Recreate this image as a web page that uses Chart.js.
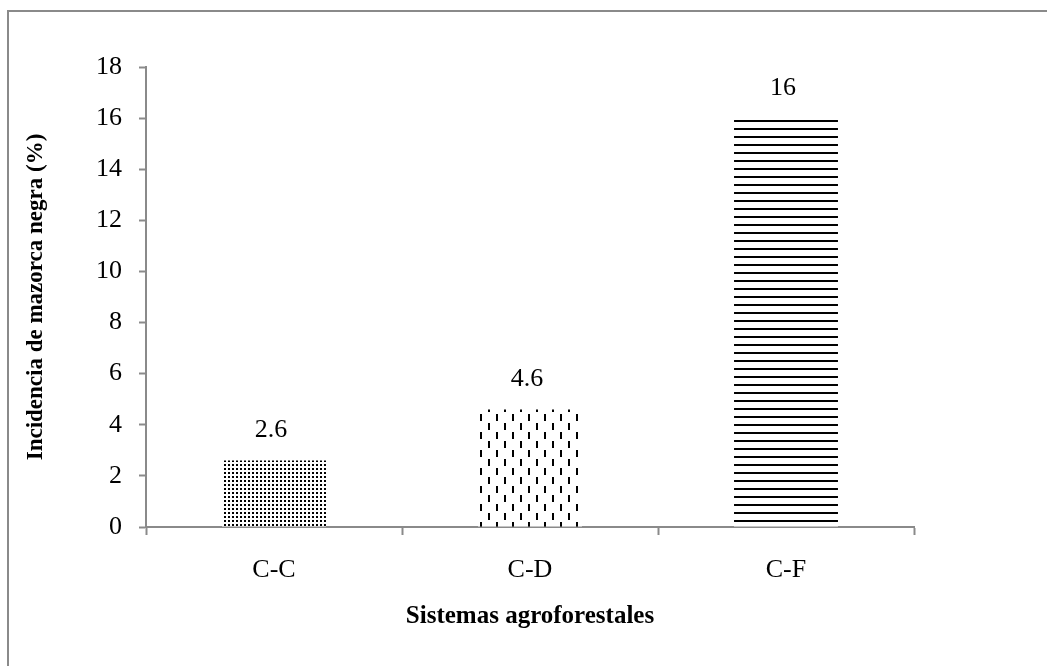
<!DOCTYPE html>
<html>
<head>
<meta charset="utf-8">
<script src="https://cdn.jsdelivr.net/npm/chart.js@4"></script>
<style>
  html, body { margin: 0; padding: 0; background: #fff; }
  canvas { display: block; }
</style>
</head>
<body>
<canvas id="incidenceChart" width="1047" height="666"></canvas>
<script>
    // Incidence of black pod per agroforestry system
    const categories = ['C-C', 'C-D', 'C-F'];
    const incidence = [2.6, 4.6, 16];
    const yTicks = [0, 2, 4, 6, 8, 10, 12, 14, 16, 18];

    const serif = "'Liberation Serif', 'Times New Roman', serif";
    const axisGrey = '#8a8a8a';
    const canvas = document.getElementById('incidenceChart');

    // Black-and-white fill patterns, one per bar
    function makePattern(w, h, draw) {
        const c = document.createElement('canvas');
        c.width = w;
        c.height = h;
        const g = c.getContext('2d');
        g.fillStyle = '#fff';
        g.fillRect(0, 0, w, h);
        g.fillStyle = '#000';
        draw(g);
        return canvas.getContext('2d').createPattern(c, 'repeat');
    }

    const dots = makePattern(4, 4, g => g.fillRect(0, 0, 2, 2));
    const dashes = makePattern(16, 18, g => {
        g.fillRect(0, 0, 2, 7);
        g.fillRect(8, 9, 2, 7);
    });
    const stripes = makePattern(8, 8, g => g.fillRect(0, 0, 8, 2));

    // Outer frame and value labels above the bars
    const decorations = {
        id: 'decorations',
        beforeDraw(chart) {
            const ctx = chart.ctx;
            ctx.save();
            ctx.fillStyle = '#fff';
            ctx.fillRect(0, 0, chart.width, chart.height);
            ctx.strokeStyle = axisGrey;
            ctx.lineWidth = 2;
            ctx.beginPath();
            ctx.moveTo(8, chart.height + 2);
            ctx.lineTo(8, 11);
            ctx.lineTo(chart.width + 2, 11);
            ctx.stroke();
            ctx.restore();
        },
        afterDatasetsDraw(chart) {
            const ctx = chart.ctx;
            const meta = chart.getDatasetMeta(0);
            ctx.save();
            ctx.fillStyle = '#000';
            ctx.font = '26px ' + serif;
            ctx.textAlign = 'center';
            ctx.textBaseline = 'middle';
            meta.data.forEach((bar, i) => {
                ctx.fillText(String(incidence[i]), bar.x - 3, bar.y - 30);
            });
            ctx.restore();
        }
    };

    new Chart(canvas, {
        type: 'bar',
        data: {
            labels: categories,
            datasets: [{
                data: incidence,
                backgroundColor: [dots, dashes, stripes],
                borderWidth: 0,
                categoryPercentage: 1,
                barPercentage: 0.406
            }]
        },
        options: {
            responsive: false,
            animation: false,
            layout: { padding: { left: 0, top: 67, right: 133, bottom: 0 } },
            plugins: {
                legend: { display: false },
                tooltip: { enabled: false }
            },
            scales: {
                x: {
                    afterFit(scale) { scale.height = 139; },
                    grid: {
                        offset: true,
                        drawOnChartArea: false,
                        drawTicks: true,
                        tickLength: 8,
                        tickWidth: 2,
                        tickColor: axisGrey
                    },
                    border: { color: axisGrey, width: 2 },
                    ticks: {
                        color: '#000',
                        padding: 20,
                        font: { family: serif, size: 26 }
                    },
                    title: {
                        display: true,
                        text: 'Sistemas agroforestales',
                        color: '#000',
                        font: { family: serif, size: 25, weight: 'bold' },
                        padding: { top: 0, bottom: 34 }
                    }
                },
                y: {
                    min: 0,
                    max: 18,
                    afterFit(scale) { scale.width = 146; },
                    afterBuildTicks(scale) {
                        scale.ticks = yTicks.map(v => ({ value: v }));
                    },
                    grid: {
                        drawOnChartArea: false,
                        drawTicks: true,
                        tickLength: 7,
                        tickWidth: 2,
                        tickColor: axisGrey
                    },
                    border: { color: axisGrey, width: 2 },
                    ticks: {
                        color: '#000',
                        padding: 17,
                        font: { family: serif, size: 26 }
                    },
                    title: {
                        display: true,
                        text: 'Incidencia de mazorca negra (%)',
                        color: '#000',
                        font: { family: serif, size: 23, weight: 'bold' },
                        padding: { top: 22, bottom: 0 }
                    }
                }
            }
        },
        plugins: [decorations]
    });
</script>
</body>
</html>
